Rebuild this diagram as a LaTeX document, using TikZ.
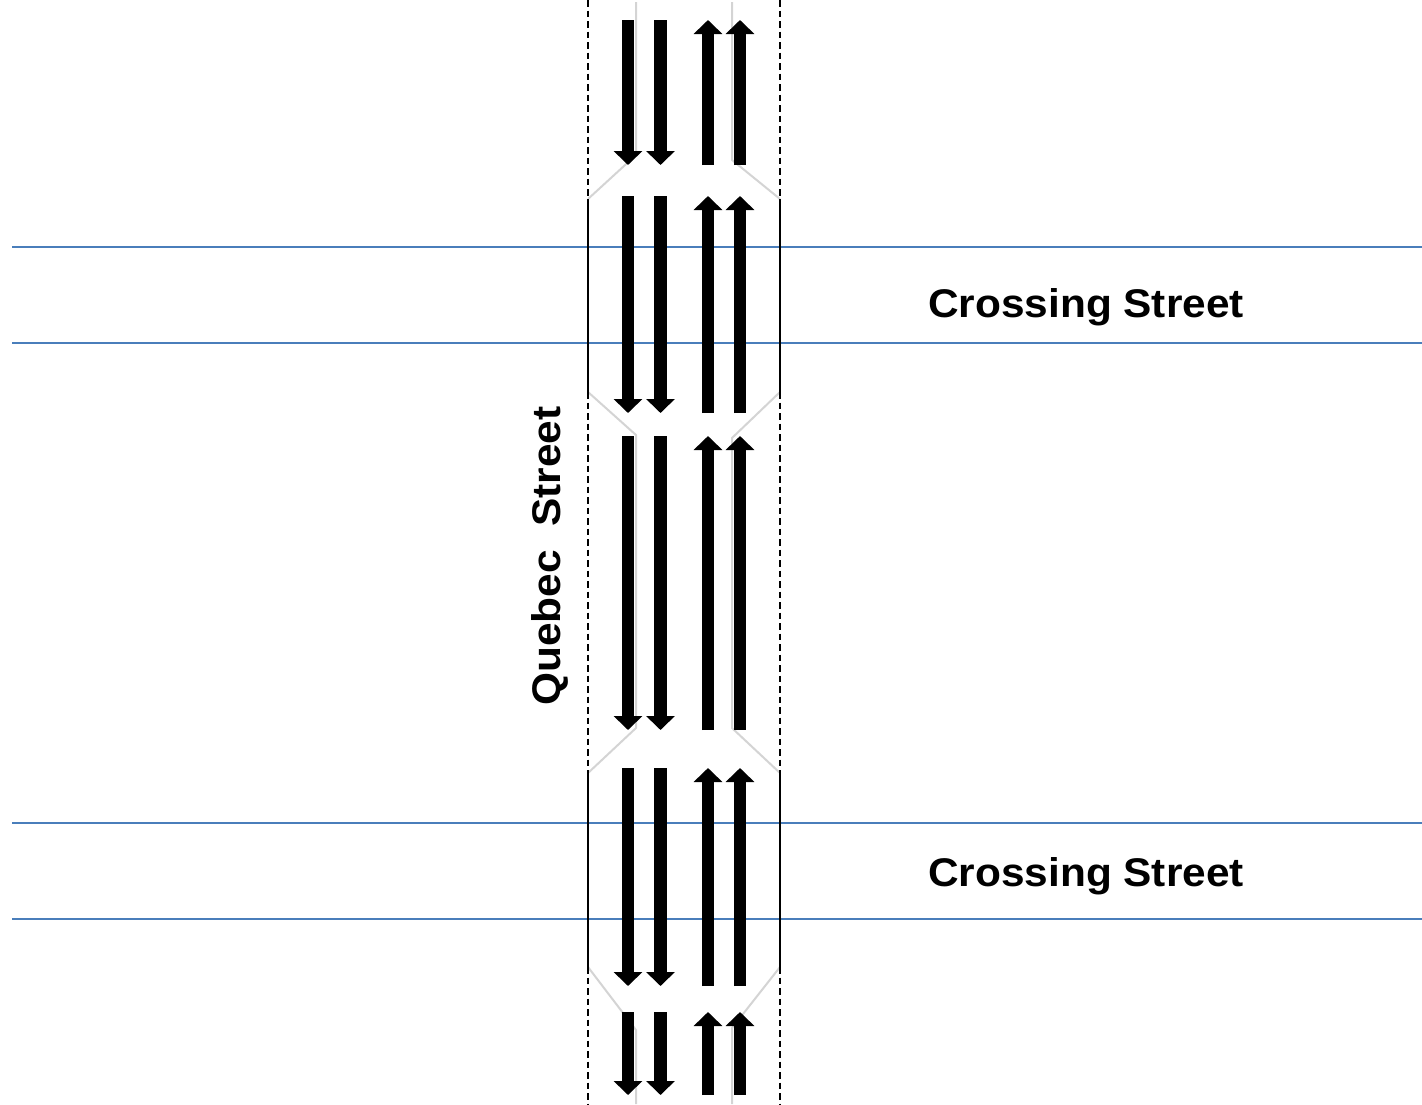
\documentclass[tikz,border=0pt]{standalone}
\usepackage{fontspec}
\setmainfont{Liberation Sans}
\usetikzlibrary{arrows.meta}
\definecolor{streetblue}{HTML}{4A7EBB}
\definecolor{lanegray}{HTML}{D4D4D4}
\tikzset{
  blueline/.style={draw=streetblue, line width=2pt},
  grayline/.style={draw=lanegray, line width=2pt},
  edgesolid/.style={draw=black, line width=1.6pt},
  edgedashed/.style={draw=black, line width=1.6pt, dash pattern=on 6.5pt off 4pt},
  lanearrow/.style={line width=12.8pt, -{Triangle[width=28pt,length=14pt]}},
  lbl/.style={font=\bfseries\fontsize{40}{44}\selectfont, inner sep=0pt}
}
\newcommand\downpair[2]{%
  \draw[lanearrow] (628,#1) -- (628,#2);
  \draw[lanearrow] (660.5,#1) -- (660.5,#2);
  \draw[lanearrow] (708,#2) -- (708,#1);
  \draw[lanearrow] (740,#2) -- (740,#1);
}
\begin{document}
\begin{tikzpicture}[x=1pt,y=-1pt]
\useasboundingbox (0,0) rectangle (1422,1104);
% crossing streets
\coordinate (b1l) at (12,246.7);  \coordinate (b1r) at (1422,246.7);
\coordinate (b2l) at (12,342.7);  \coordinate (b2r) at (1422,342.7);
\coordinate (b3l) at (12,822.7);  \coordinate (b3r) at (1422,822.7);
\coordinate (b4l) at (12,918.7);  \coordinate (b4r) at (1422,918.7);
\draw[blueline] (b1l) -- (b1r);
\draw[blueline] (b2l) -- (b2r);
\draw[blueline] (b3l) -- (b3r);
\draw[blueline] (b4l) -- (b4r);
% gray lane guides
\draw[grayline] (636,2) -- (636,155) -- (588,199);
\draw[grayline] (732,2) -- (732,160) -- (780,199);
\draw[grayline] (588,392) -- (636,435) -- (636,728) -- (588,773);
\draw[grayline] (780,392) -- (732,438) -- (732,728) -- (780,773);
\draw[grayline] (588,967) -- (636,1030) -- (636,1104);
\draw[grayline] (780,967) -- (732,1028) -- (732,1104);
% road edges
\draw[edgedashed] (588,0) -- (588,199);
\draw[edgesolid] (588,199) -- (588,392);
\draw[edgedashed] (588,392) -- (588,773);
\draw[edgesolid] (588,773) -- (588,967);
\draw[edgedashed] (588,967) -- (588,1104);
\draw[edgedashed] (780,0) -- (780,199);
\draw[edgesolid] (780,199) -- (780,392);
\draw[edgedashed] (780,392) -- (780,773);
\draw[edgesolid] (780,773) -- (780,967);
\draw[edgedashed] (780,967) -- (780,1104);
% lane arrows
\downpair{20}{165}
\downpair{196}{413}
\downpair{436}{730}
\downpair{768}{986}
\downpair{1012}{1095}
% labels
\node[lbl, anchor=base] (cs1) at (1086,317) {\scalebox{1.06}[1]{Crossing Street}};
\node[lbl, anchor=base] (cs2) at (1086,886.5) {\scalebox{1.06}[1]{Crossing Street}};
\node[lbl, anchor=base, rotate=90] (qs) at (560,556) {\scalebox{1.06}[1]{Quebec\ \ Street}};
\end{tikzpicture}
\end{document}
